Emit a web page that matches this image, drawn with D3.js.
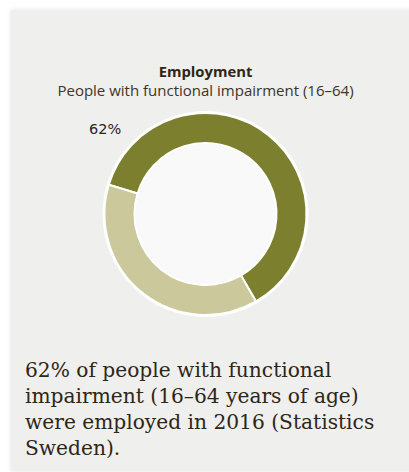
<!DOCTYPE html>
<html>
<head>
<meta charset="utf-8">
<script src="https://cdn.jsdelivr.net/npm/d3@7"></script>
<style>
  html, body { margin: 0; padding: 0; background: #ffffff; }
  svg { display: block; }
</style>
</head>
<body>
<svg id="chart" width="409" height="472"></svg>
<script>
// Employment share among people with functional impairment, ages 16–64
const categories = ["Employed", "Not employed"];
const shares = [62, 38];
const sliceColors = ["#7c802e", "#cbc89c"];
const title = "Employment";
const subtitle = "People with functional impairment (16–64)";
const valueLabel = "62%";
const captionLines = [
  "62% of people with functional",
  "impairment (16–64 years of age)",
  "were employed in 2016 (Statistics",
  "Sweden)."
];

const svg = d3.select("#chart");

// soft shadow behind the card
const defs = svg.append("defs");
const shadow = defs.append("filter").attr("id", "cardShadow")
  .attr("x", "-10%").attr("y", "-10%").attr("width", "120%").attr("height", "120%");
shadow.append("feGaussianBlur").attr("in", "SourceAlpha").attr("stdDeviation", 2.5);
shadow.append("feOffset").attr("dx", 0).attr("dy", 0).attr("result", "blur");
shadow.append("feComponentTransfer").append("feFuncA").attr("type", "linear").attr("slope", 0.12);
const merge = shadow.append("feMerge");
merge.append("feMergeNode");
merge.append("feMergeNode").attr("in", "SourceGraphic");

svg.append("rect")
  .attr("x", 11).attr("y", 10)
  .attr("width", 420).attr("height", 461)
  .attr("fill", "#efefed")
  .attr("filter", "url(#cardShadow)");

// heading
svg.append("text")
  .attr("x", 205.5).attr("y", 77)
  .attr("text-anchor", "middle")
  .attr("font-family", "'Open Sans', sans-serif")
  .attr("font-weight", 700)
  .attr("font-size", 14.8)
  .attr("fill", "#2e2616")
  .text(title);

svg.append("text")
  .attr("x", 205.5).attr("y", 96)
  .attr("text-anchor", "middle")
  .attr("font-family", "'Open Sans', sans-serif")
  .attr("font-size", 15)
  .attr("fill", "#3d3526")
  .text(subtitle);

// donut
const cx = 205.5, cy = 214;
const outerR = 101, innerR = 71;
const pie = d3.pie().sort(null)
  .startAngle(-0.62 * Math.PI * 2 + (150 / 180) * Math.PI)
  .endAngle((150 / 180) * Math.PI + (1 - 0.62) * Math.PI * 2);
const arc = d3.arc().innerRadius(innerR).outerRadius(outerR);

const g = svg.append("g").attr("transform", `translate(${cx},${cy})`);

// white backing ring gives the outer rim
g.append("circle").attr("r", outerR + 2).attr("fill", "#ffffff");
g.append("circle").attr("r", innerR).attr("fill", "#f9f9f9");

g.selectAll("path.slice")
  .data(pie(shares))
  .join("path")
  .attr("class", "slice")
  .attr("d", arc)
  .attr("fill", (d, i) => sliceColors[i])
  .attr("stroke", "#ffffff")
  .attr("stroke-width", 2)
  .append("title").text((d, i) => `${categories[i]}: ${shares[i]}%`);

g.append("circle").attr("r", innerR - 1).attr("fill", "#f9f9f9");

svg.append("text")
  .attr("x", 89).attr("y", 133.5)
  .attr("font-family", "'DejaVu Sans', sans-serif")
  .attr("font-size", 14.5)
  .attr("fill", "#2e2616")
  .text(valueLabel);

// caption
svg.append("g")
  .selectAll("text")
  .data(captionLines)
  .join("text")
  .attr("x", 25)
  .attr("y", (d, i) => 377 + i * 26)
  .attr("font-family", "'DejaVu Serif', serif")
  .attr("font-size", 20.2)
  .attr("fill", "#2e2616")
  .text(d => d);
</script>
</body>
</html>
